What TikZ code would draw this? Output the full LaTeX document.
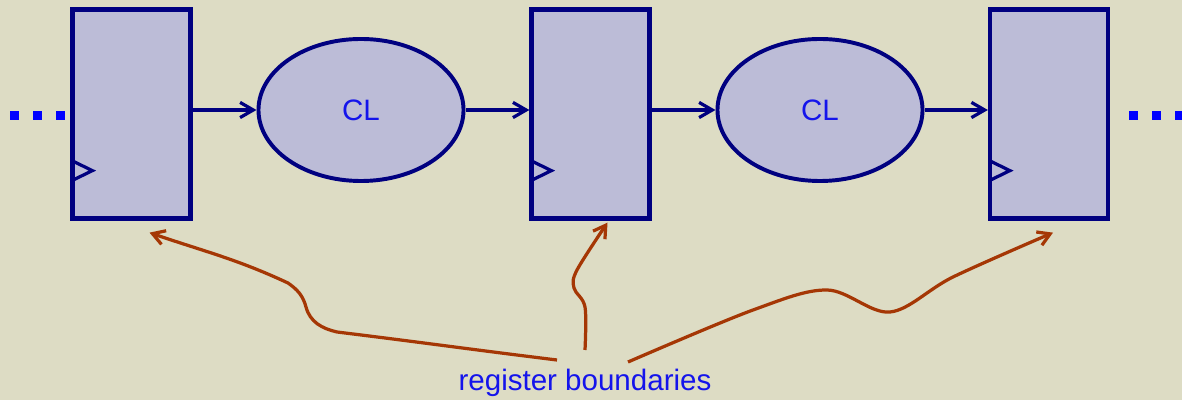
\documentclass[tikz,border=0pt]{standalone}
\usepackage{fontspec}
\setmainfont{Liberation Sans}
\usetikzlibrary{shapes.geometric, arrows.meta, positioning, calc}
\definecolor{paper}{RGB}{221,220,196}
\definecolor{regfill}{RGB}{188,188,215}
\definecolor{regline}{RGB}{0,0,128}
\definecolor{textblue}{RGB}{20,20,235}
\definecolor{dotblue}{RGB}{0,0,255}
\definecolor{notebrown}{RGB}{165,55,5}

\begin{document}
\begin{tikzpicture}[
    x=0.025cm, y=0.025cm,
    reg/.style={draw=regline, fill=regfill, line width=3pt, minimum width=2.95cm, minimum height=5.225cm, inner sep=0pt},
    logic/.style={ellipse, draw=regline, fill=regfill, line width=2.8pt, minimum width=5.125cm, minimum height=3.55cm, inner sep=0pt, text=textblue, font=\fontsize{21}{25}\selectfont},
    flow/.style={-{Straight Barb[length=3.3mm, width=3.8mm]}, line width=2.3pt, draw=regline},
    clk/.style={line width=2.3pt, draw=regline},
    note/.style={-{Straight Barb[length=3mm, width=3.6mm]}, line width=2.3pt, draw=notebrown}
]
    % Background
    \fill[paper] (0,0) rectangle (1182,400);
    \useasboundingbox (0,0) rectangle (1182,400);

    % Registers
    \node[reg] (r1) at (131.5,286) {};
    \node[reg] (r2) at (590.5,286) {};
    \node[reg] (r3) at (1049,286) {};

    % Clock inputs
    \foreach \r in {r1,r2,r3}
        \draw[clk] ($(\r.south west)+(1.5,60)$) -- ($(\r.south west)+(22,50)$) -- ($(\r.south west)+(1.5,40)$);

    % Combinational logic
    \node[logic] (cl1) at (361,290) {CL};
    \node[logic] (cl2) at (820,290) {CL};

    % Data path
    \draw[flow] (r1.east |- cl1.west) -- (cl1.west);
    \draw[flow] (cl1.east) -- (r2.west |- cl1.east);
    \draw[flow] (r2.east |- cl2.west) -- (cl2.west);
    \draw[flow] (cl2.east) -- (r3.west |- cl2.east);

    % Continuation dots
    \foreach \x in {14,37,60,1133,1156,1179}
        \fill[dotblue] (\x-4.5,280) rectangle ++(9,9);

    % Label and pointers
    \node[text=textblue, font=\fontsize{21}{25}\selectfont] (lbl) at (585,17) {register boundaries};
    \coordinate (s1) at ($(lbl)+(-28,23)$);
    \coordinate (s2) at ($(lbl)+(0,33)$);
    \coordinate (s3) at ($(lbl)+(43,21)$);
    \coordinate (t1) at ($(r1.south)+(18,-12)$);
    \coordinate (t2) at ($(r2.south)+(17,-2)$);
    \coordinate (t3) at ($(r3.south)+(4,-12)$);
    \draw[note] (s1) to[out=173,in=-7] (337,68) to[out=167,in=-75] (306,93)
        to[out=105,in=-35] (288,117) to[out=155,in=-19] (t1);
    \draw[note] plot[smooth, tension=0.55] coordinates {(s2) (585,93) (574,112) (577,130) (t2)};
    \draw[note] plot[smooth, tension=0.55] coordinates {(s3) (753,90) (827,110) (890,88) (953,123) (t3)};
\end{tikzpicture}
\end{document}
